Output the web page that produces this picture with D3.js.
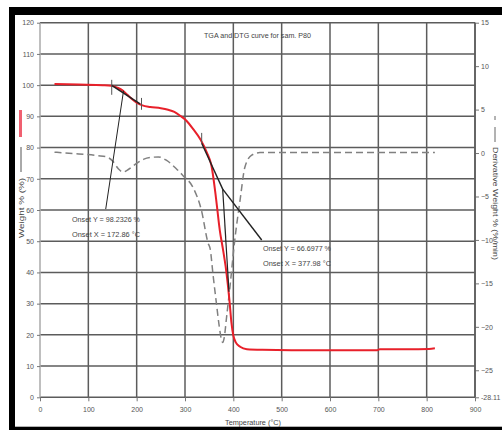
<!DOCTYPE html>
<html><head><meta charset="utf-8">
<script src="https://cdn.jsdelivr.net/npm/d3@7"></script>
<style>
html,body{margin:0;padding:0;background:#fff;}
svg{display:block;}
text{font-family:"Liberation Sans Narrow","Arial Narrow","Liberation Sans",Arial,sans-serif;}
</style></head>
<body>
<script>
// ---- data ----
const tgaT = [30, 80, 130, 148, 160, 170, 180, 190, 200, 212, 228, 250, 265, 278, 290, 303, 317, 332, 345, 355, 364, 372, 379, 384, 389, 392, 396, 400, 405, 414, 428, 460, 520, 600, 698, 703, 760, 805, 817];
const tgaW = [100.4, 100.2, 100.0, 99.8, 99.2, 98.4, 97.0, 95.6, 94.4, 93.5, 93.0, 92.6, 92.1, 91.4, 90.2, 88.6, 85.9, 82.6, 78.5, 74.0, 64.0, 53.5, 47.0, 42.0, 35.5, 31.0, 24.0, 19.8, 17.6, 16.2, 15.4, 15.2, 15.1, 15.1, 15.1, 15.4, 15.4, 15.5, 15.7];

const dtgT = [30, 80, 120, 138, 150, 162, 172, 180, 190, 200, 215, 230, 245, 262, 282, 296, 317, 334, 348, 352, 358, 365, 371, 376, 378, 381, 386, 393, 403, 414, 424, 438, 455, 500, 600, 700, 817];
const dtgD = [0.1, -0.1, -0.3, -0.45, -0.9, -1.8, -2.2, -2.0, -1.6, -1.2, -0.7, -0.5, -0.45, -0.85, -1.8, -2.6, -4.0, -6.6, -10.4, -11.0, -14.0, -17.3, -20.0, -21.6, -21.8, -21.3, -18.9, -15.4, -10.0, -5.4, -1.6, -0.24, 0.05, 0.05, 0.05, 0.05, 0.05];

const xTicks = [0, 100, 200, 300, 400, 500, 600, 700, 800, 900];
const yTicks = [0, 10, 20, 30, 40, 50, 60, 70, 80, 90, 100, 110, 120];
const y2Ticks = [15, 10, 5, 0, -5, -10, -15, -20, -25, -28.11];

// onset construction lines (temperature, weight)
const onset1 = [172.86, 98.2326];
const onset2 = [377.98, 66.6977];
const chord1 = [[148.4, 99.9], [207, 94.0]];
const leader1 = [onset1, [136, 60.3]];
const tangent2 = [[334.5, 81.4], onset2];
const steep2 = [onset2, [391, 33.8]];
const leader2 = [onset2, [458.7, 50.4]];
const markT = [148.4, 210, 334.5];
const markW = [[101.7, 96.9], [95.9, 92.1], [84.7, 81.5]];

const title = "TGA and DTG curve for sam. P80";
const ann1 = ["Onset Y = 98.2326 %", "Onset X = 172.86 °C"];
const ann2 = ["Onset Y = 66.6977 %", "Onset X = 377.98 °C"];

// ---- drawing ----
const svg = d3.select("body").append("svg").attr("width", 502).attr("height", 430);
svg.append("rect").attr("x", 0).attr("y", 0).attr("width", 502).attr("height", 430).attr("fill", "#fff");
svg.append("rect").attr("x", 9).attr("y", 7).attr("width", 493).attr("height", 423).attr("fill", "#000");
svg.append("rect").attr("x", 15).attr("y", 15).attr("width", 487).attr("height", 411.7).attr("fill", "#fff");

const x = d3.scaleLinear().domain([0, 900]).range([40, 475]);
const y = d3.scaleLinear().domain([0, 120]).range([397.3, 22.7]);
const y2 = d3.scaleLinear().domain([-28.11, 15]).range([397.3, 22.7]);

const grid = svg.append("g");
grid.selectAll("line.h").data(yTicks).join("line")
  .attr("x1", x(0)).attr("x2", x(900)).attr("y1", d => y(d)).attr("y2", d => y(d))
  .attr("stroke", "#5c5c5c").attr("stroke-width", 1.5);
grid.selectAll("line.v").data(xTicks.slice(1)).join("line")
  .attr("x1", d => x(d)).attr("x2", d => x(d)).attr("y1", y(0)).attr("y2", y(120))
  .attr("stroke", "#5c5c5c").attr("stroke-width", 1.5);
grid.append("line").attr("x1", x(0)).attr("x2", x(0)).attr("y1", y(0)).attr("y2", y(120))
  .attr("stroke", "#aaa").attr("stroke-width", 1.5);

function styleAxis(g) {
  g.select(".domain").remove();
  g.selectAll(".tick line").attr("stroke", "#777").attr("stroke-width", 1);
  g.selectAll(".tick text").attr("fill", "#555").style("font-size", "7px");
}
svg.append("g").attr("transform", `translate(0,${y(0)})`)
  .call(d3.axisBottom(x).tickValues(xTicks).tickSize(4).tickPadding(6).tickFormat(d3.format("d")))
  .call(styleAxis);
svg.append("g").attr("transform", `translate(${x(0)},0)`)
  .call(d3.axisLeft(y).tickValues(yTicks).tickSize(3).tickPadding(3).tickFormat(d3.format("d")))
  .call(styleAxis);
svg.append("g").attr("transform", `translate(${x(900)},0)`)
  .call(d3.axisRight(y2).tickValues(y2Ticks).tickSize(4).tickPadding(2).tickFormat(d => d === -28.11 ? "-28.11" : d3.format("d")(d)))
  .call(styleAxis);
svg.append("line").attr("x1", x(900)).attr("x2", x(900)).attr("y1", y(0)).attr("y2", y(120))
  .attr("stroke", "#5c5c5c").attr("stroke-width", 1.5);

// DTG dashed
const dtgData = dtgT.map((t, i) => [t, dtgD[i]]);
svg.append("path").datum(dtgData)
  .attr("d", d3.line().x(d => x(d[0])).y(d => y2(d[1])).curve(d3.curveMonotoneX))
  .attr("fill", "none").attr("stroke", "#808080").attr("stroke-width", 1.5).attr("stroke-dasharray", "7,4");

// TGA red
const tgaData = tgaT.map((t, i) => [t, tgaW[i]]);
svg.append("path").datum(tgaData)
  .attr("d", d3.line().x(d => x(d[0])).y(d => y(d[1])).curve(d3.curveMonotoneX))
  .attr("fill", "none").attr("stroke", "#e8202a").attr("stroke-width", 2);

// onset lines
const ln = d3.line().x(d => x(d[0])).y(d => y(d[1]));
[[chord1, 1.6], [leader1, 1], [tangent2, 1.4], [steep2, 1.2], [leader2, 1.4]].forEach(([pts, w]) => {
  svg.append("path").attr("d", ln(pts)).attr("fill", "none").attr("stroke", "#222").attr("stroke-width", w);
});
svg.selectAll("line.mark").data(markT).join("line")
  .attr("x1", d => x(d)).attr("x2", d => x(d))
  .attr("y1", (d, i) => y(markW[i][0])).attr("y2", (d, i) => y(markW[i][1]))
  .attr("stroke", "#555").attr("stroke-width", 1);

// texts
svg.append("text").attr("x", 204).attr("y", 38).attr("textLength", 107).attr("lengthAdjust", "spacingAndGlyphs")
  .style("font-size", "7.5px").attr("fill", "#444").text(title);
[[ann1, 72, 222], [ann2, 263, 251]].forEach(([lines, tx, ty]) => {
  lines.forEach((s, i) => {
    svg.append("text").attr("x", tx).attr("y", ty + i * 14.5).attr("textLength", 68).attr("lengthAdjust", "spacingAndGlyphs")
      .style("font-size", "7.5px").attr("fill", "#444").text(s);
  });
});
svg.append("text").attr("x", 253).attr("y", 425).attr("text-anchor", "middle")
  .attr("textLength", 56).attr("lengthAdjust", "spacingAndGlyphs")
  .style("font-size", "7px").attr("fill", "#444").text("Temperature (°C)");

// left axis title with legend samples
svg.append("line").attr("x1", 20.5).attr("x2", 20.5).attr("y1", 110).attr("y2", 137).attr("stroke", "#f06070").attr("stroke-width", 3);
svg.append("line").attr("x1", 21).attr("x2", 21).attr("y1", 147).attr("y2", 172).attr("stroke", "#555").attr("stroke-width", 1);
svg.append("text").attr("transform", "translate(23.5,238) rotate(-90)").attr("textLength", 60).attr("lengthAdjust", "spacingAndGlyphs")
  .style("font-size", "7px").attr("fill", "#444").text("Weight % (%)");

// right axis title with legend samples
svg.append("line").attr("x1", 495).attr("x2", 495).attr("y1", 116).attr("y2", 120).attr("stroke", "#666").attr("stroke-width", 1);
svg.append("line").attr("x1", 495).attr("x2", 495).attr("y1", 127).attr("y2", 142).attr("stroke", "#666").attr("stroke-width", 1);
svg.append("text").attr("transform", "translate(492.5,147) rotate(90)").attr("textLength", 113).attr("lengthAdjust", "spacingAndGlyphs")
  .style("font-size", "7px").attr("fill", "#444").text("Derivative Weight % (%/min)");
</script>
</body></html>
